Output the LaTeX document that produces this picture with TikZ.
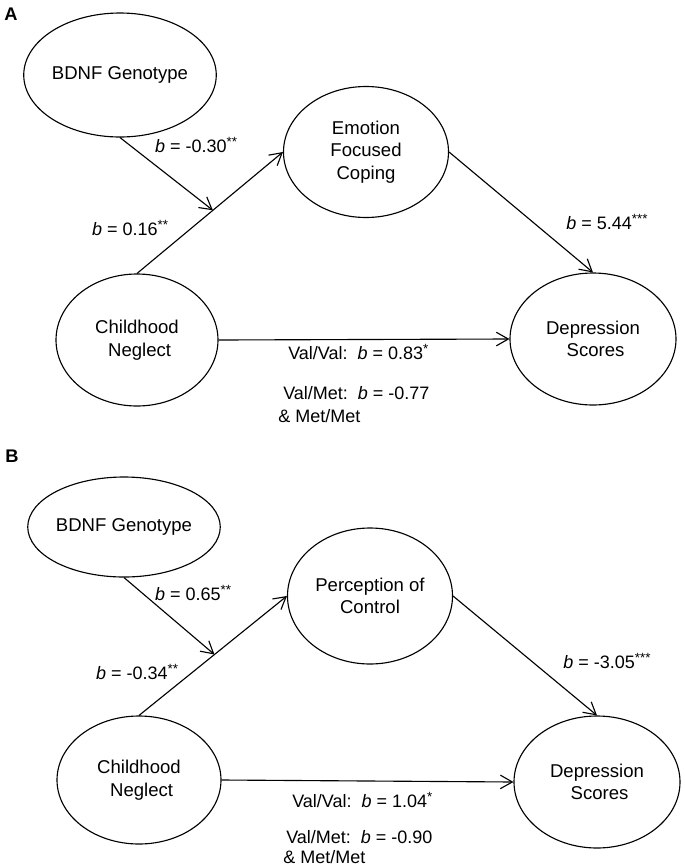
\documentclass[tikz,border=0pt]{standalone}
\usepackage{fontspec}
\setmainfont{Liberation Sans}
\usetikzlibrary{calc,arrows.meta,shapes.geometric}
\newcommand{\sig}[1]{\raisebox{0.6ex}{\fontsize{9.5}{9.5}\selectfont #1}}
\tikzset{
	var/.style={draw, ellipse, line width=0.8pt, inner sep=0pt, align=center, font=\fontsize{13.2}{16}\selectfont},
	coef/.style={inner sep=0pt, font=\fontsize{12.8}{15}\selectfont},
	link/.style={line width=0.8pt, -{Straight Barb[length=3mm,width=3.4mm]}},
	panel/.style={inner sep=0pt, font=\fontsize{13}{15}\selectfont\bfseries}
}

\begin{document}
\begin{tikzpicture}
		%%%%% START %%%%%
		\useasboundingbox (0, 0) rectangle (17.125, -21.675);
		
		%%%%% panel A %%%%%
		\node[panel] (labA) at (0.275, -0.35) {A};
		
		\node[var, minimum width=4.15cm, minimum height=3.1cm] (bdnfA) at (3.0, -1.875) {BDNF Genotype};
		\node[var, minimum width=4.125cm, minimum height=3.275cm] (emo) at (9.15, -3.8) {Emotion\\Focused\\Coping};
		\node[var, minimum width=4.05cm, minimum height=3.3cm] (neglA) at (3.425, -8.5) {Childhood\\\ Neglect};
		\node[var, minimum width=4.15cm, minimum height=3.3cm] (depA) at (14.825, -8.475) {Depression\\\ Scores};
		
		\coordinate (modA) at ($(neglA.north)!0.52!(emo.west)$);
		
		\draw[link] (neglA.north) -- (emo.west);
		\draw[link] (bdnfA.south) -- (modA);
		\draw[link] (emo.east) -- (depA.north);
		\draw[link] (neglA.east) -- (depA.west);
		
		\node[coef] (bA1) at (4.9, -3.625) {\textit{b} = -0.30\sig{**}};
		\node[coef] (bA2) at (3.25, -5.7) {\textit{b} = 0.16\sig{**}};
		\node[coef] (bA3) at (15.175, -5.55) {\textit{b} = 5.44\sig{***}};
		\node[coef, anchor=west] (vvA) at (7.2, -8.8) {Val/Val:\ \ \textit{b} = 0.83\sig{*}};
		\node[coef, anchor=west] (vmA) at (7.075, -9.825) {Val/Met:\ \ \textit{b} = -0.77};
		\node[coef, anchor=west] (mmA) at (6.95, -10.4) {\& Met/Met};
		
		%%%%% panel B %%%%%
		\node[panel] (labB) at (0.3, -11.4) {B};
		
		\node[var, minimum width=4.1cm, minimum height=2.5cm] (bdnfB) at (3.1, -13.175) {BDNF Genotype};
		\node[var, minimum width=4.125cm, minimum height=3.4cm] (perc) at (9.25, -14.9) {Perception of\\Control};
		\node[var, minimum width=4.1cm, minimum height=3.2cm] (neglB) at (3.475, -19.5) {Childhood\\\ Neglect};
		\node[var, minimum width=4.15cm, minimum height=3.3cm] (depB) at (14.925, -19.55) {Depression\\\ Scores};
		
		\coordinate (modB) at ($(neglB.north)!0.51!(perc.west)$);
		
		\draw[link] (neglB.north) -- (perc.west);
		\draw[link] (bdnfB.south) -- (modB);
		\draw[link] (perc.east) -- (depB.north);
		\draw[link] (neglB.east) -- (depB.west);
		
		\node[coef] (bB1) at (4.825, -14.825) {\textit{b} = 0.65\sig{**}};
		\node[coef] (bB2) at (3.425, -16.8) {\textit{b} = -0.34\sig{**}};
		\node[coef] (bB3) at (15.175, -16.525) {\textit{b} = -3.05\sig{***}};
		\node[coef, anchor=west] (vvB) at (7.3, -20.0) {Val/Val:\ \ \textit{b} = 1.04\sig{*}};
		\node[coef, anchor=west] (vmB) at (7.15, -20.925) {Val/Met:\ \ \textit{b} = -0.90};
		\node[coef, anchor=west] (mmB) at (7.075, -21.425) {\& Met/Met};
		
		%%%%% END %%%%%
	\end{tikzpicture}
\end{document}
